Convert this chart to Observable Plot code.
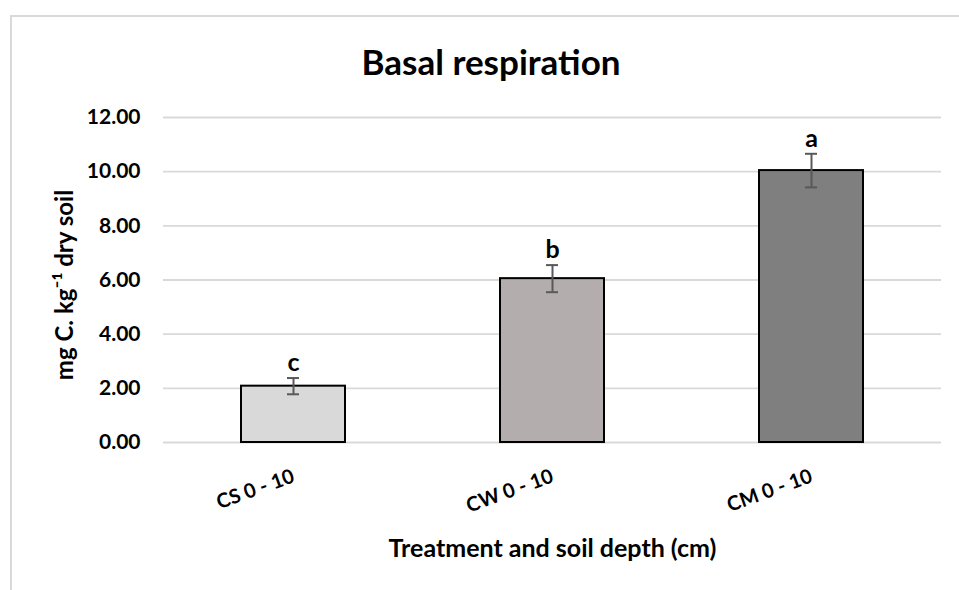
<!DOCTYPE html>
<html>
<head>
<meta charset="utf-8">
<script src="https://cdn.jsdelivr.net/npm/d3@7"></script>
<script src="https://cdn.jsdelivr.net/npm/@observablehq/plot@0.6"></script>
<style>
  body { margin: 0; background: #fff; }
  #wrap { position: relative; width: 959px; height: 590px; overflow: hidden; background: #fff; font-family: Lato, "Open Sans", sans-serif; }
  #border { position: absolute; left: 10px; top: 15px; width: 1000px; height: 700px; border: 2px solid #d9d9d9; box-sizing: border-box; }
  #title { position: absolute; left: 0; width: 982px; top: 44px; text-align: center; font-size: 35px; line-height: 35px; font-weight: bold; color: #000; }
  #chart { position: absolute; left: 0; top: 100px; }
</style>
</head>
<body>
<div id="wrap">
  <div id="border"></div>
  <div id="title">Basal respiration</div>
  <div id="chart"></div>
</div>
<script>
const categories = ["CS 0 - 10", "CW 0 - 10", "CM 0 - 10"];
const means = [2.08, 6.05, 10.04];
const errors = [0.30, 0.50, 0.62];
const letters = ["c", "b", "a"];
const barColors = ["#d9d9d9", "#b3adad", "#7f7f7f"];
const yTicks = [0, 2, 4, 6, 8, 10, 12];
const yLabel = "mg C. kg\u207B\u00B9 dry soil";
const xLabel = "Treatment and soil depth (cm)";

const data = categories.map((c, i) => ({cat: c, mean: means[i], err: errors[i], letter: letters[i], color: barColors[i]}));

const font = "Lato, 'Open Sans', sans-serif";

const plot = Plot.plot({
  width: 959,
  height: 490,
  marginTop: 17,
  marginBottom: 148,
  marginLeft: 163,
  marginRight: 18,
  style: {fontFamily: font, color: "#000", background: "transparent"},
  x: {domain: categories, paddingInner: 0.6, paddingOuter: 0.3},
  y: {domain: [0, 12]},
  marks: [
    Plot.ruleY(yTicks, {stroke: "#d9d9d9", strokeWidth: 1.8}),
    Plot.axisY({ticks: yTicks, tickFormat: d3.format(".2f"), tickSize: 0, tickPadding: 23, fontSize: 21, fontWeight: "bold", label: null}),
    Plot.axisX({tickSize: 0, tickPadding: 33, rotate: -20, textAnchor: "end", lineAnchor: "middle", fontSize: 20, fontWeight: "bold", label: null}),
    Plot.barY(data, {x: "cat", y: "mean", fill: "color", stroke: "#000", strokeWidth: 2}),
    Plot.ruleX(data, {x: "cat", y1: d => d.mean - d.err, y2: d => d.mean + d.err, stroke: "#595959", strokeWidth: 2}),
    Plot.tickY(data, {x: "cat", y: d => d.mean - d.err, stroke: "#595959", strokeWidth: 2, insetLeft: 46, insetRight: 46}),
    Plot.tickY(data, {x: "cat", y: d => d.mean + d.err, stroke: "#595959", strokeWidth: 2, insetLeft: 46, insetRight: 46}),
    Plot.text(data, {x: "cat", y: d => d.mean + d.err, text: "letter", lineAnchor: "bottom", dy: -7, fontSize: 25, fontWeight: "bold", fill: "#000"}),
    Plot.text([yLabel], {frameAnchor: "left", dx: -98, dy: 5, rotate: -90, textAnchor: "middle", lineAnchor: "middle", fontSize: 24, fontWeight: "bold", fill: "#000"}),
    Plot.text([xLabel], {frameAnchor: "bottom", dy: 114, textAnchor: "middle", fontSize: 25, fontWeight: "bold", fill: "#000"})
  ]
});
document.getElementById("chart").appendChild(plot);
</script>
</body>
</html>
